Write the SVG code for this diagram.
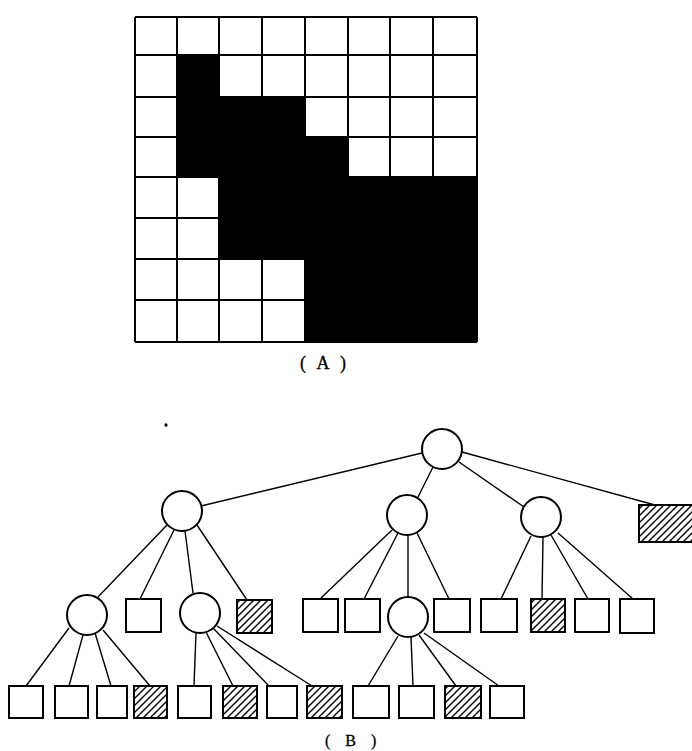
<svg xmlns="http://www.w3.org/2000/svg" width="692" height="751" viewBox="0 0 692 751">
<defs>
<pattern id="hatch" width="7" height="7" patternUnits="userSpaceOnUse">
<path d="M-1,1 L1,-1 M0,7 L7,0 M6,8 L8,6" stroke="#000" stroke-width="1.4"/>
</pattern>
<style>
.grid{stroke:#000;stroke-width:2;fill:none}
.blk{fill:#000}
.edge{stroke:#000;stroke-width:1.4;fill:none}
.circ{fill:#fff;stroke:#000;stroke-width:2}
.sq{fill:#fff;stroke:#000;stroke-width:2}
.hat{fill:url(#hatch);stroke:#000;stroke-width:2}
.lbl{font-family:"Liberation Serif","DejaVu Serif",serif;fill:#000;stroke:#000;stroke-width:0.3}
</style>
</defs>
<rect width="692" height="751" fill="#fff"/>
<g id="gridA">
<path class="blk" d="M177,55 H219 V97 H305 V137 H348 V177 H477 V342 H305 V259 H219 V177 H177 Z"/>
<path class="grid" d="M135,17 V342 M177,17 V342 M219,17 V342 M262,17 V342 M305,17 V342 M348,17 V342 M390,17 V342 M433,17 V342 M477,17 V342 M135,17 H477 M135,55 H477 M135,97 H477 M135,137 H477 M135,177 H477 M135,218 H477 M135,259 H477 M135,300 H477 M135,342 H477"/>
</g>
<text class="lbl" x="300" y="369" font-size="18" letter-spacing="3.5">( A )</text>
<ellipse cx="166" cy="425" rx="1.6" ry="1.8" fill="#000"/>
<g id="connectors">
<path class="edge" d="M422,453 L201,506"/>
<path class="edge" d="M433,467 L418,497"/>
<path class="edge" d="M459,462 L524,507"/>
<path class="edge" d="M462,452 L655,505"/>
<path class="edge" d="M167,525 L98,597"/>
<path class="edge" d="M174,530 L140,599"/>
<path class="edge" d="M185,531 L193,593"/>
<path class="edge" d="M197,525 L247,600"/>
<path class="edge" d="M392,530 L320,599"/>
<path class="edge" d="M398,533 L364,599"/>
<path class="edge" d="M408,535 L408,597"/>
<path class="edge" d="M417,533 L449,599"/>
<path class="edge" d="M531,536 L501,599"/>
<path class="edge" d="M543,537 L542,599"/>
<path class="edge" d="M551,535 L588,599"/>
<path class="edge" d="M558,533 L633,599"/>
<path class="edge" d="M69,628 L26,686"/>
<path class="edge" d="M83,635 L69,686"/>
<path class="edge" d="M95,633 L111,686"/>
<path class="edge" d="M103,630 L150,686"/>
<path class="edge" d="M196,633 L194,686"/>
<path class="edge" d="M206,632 L233,686"/>
<path class="edge" d="M213,628 L269,686"/>
<path class="edge" d="M217,626 L312,686"/>
<path class="edge" d="M398,636 L368,686"/>
<path class="edge" d="M411,637 L413,686"/>
<path class="edge" d="M419,635 L456,686"/>
<path class="edge" d="M424,633 L499,686"/>
</g>
<g id="root"><circle class="circ" cx="442" cy="449" r="20"/></g>
<g id="n1a"><circle class="circ" cx="182" cy="511" r="20"/></g>
<g id="n1b"><circle class="circ" cx="407" cy="515" r="20"/></g>
<g id="n1c"><circle class="circ" cx="541" cy="517" r="20"/></g>
<g id="n1d"><rect class="hat" x="639" y="505" width="60" height="37"/></g>
<g id="n2a1"><circle class="circ" cx="87" cy="615" r="20"/></g>
<g id="n2a2"><rect class="sq" x="126" y="599" width="35" height="33"/></g>
<g id="n2a3"><circle class="circ" cx="200" cy="613" r="20"/></g>
<g id="n2a4"><rect class="hat" x="237" y="600" width="35" height="33"/></g>
<g id="n2b1"><rect class="sq" x="303" y="599" width="35" height="33"/></g>
<g id="n2b2"><rect class="sq" x="345" y="599" width="35" height="33"/></g>
<g id="n2b3"><circle class="circ" cx="408" cy="617" r="20"/></g>
<g id="n2b4"><rect class="sq" x="434" y="599" width="36" height="33"/></g>
<g id="n2c1"><rect class="sq" x="481" y="599" width="36" height="33"/></g>
<g id="n2c2"><rect class="hat" x="531" y="599" width="34" height="33"/></g>
<g id="n2c3"><rect class="sq" x="575" y="599" width="34" height="33"/></g>
<g id="n2c4"><rect class="sq" x="620" y="599" width="34" height="34"/></g>
<g id="n3a1"><rect class="sq" x="9" y="686" width="34" height="32"/></g>
<g id="n3a2"><rect class="sq" x="55" y="686" width="33" height="32"/></g>
<g id="n3a3"><rect class="sq" x="97" y="686" width="30" height="32"/></g>
<g id="n3a4"><rect class="hat" x="134" y="686" width="33" height="32"/></g>
<g id="n3b1"><rect class="sq" x="178" y="686" width="33" height="32"/></g>
<g id="n3b2"><rect class="hat" x="223" y="686" width="34" height="32"/></g>
<g id="n3b3"><rect class="sq" x="267" y="686" width="30" height="32"/></g>
<g id="n3b4"><rect class="hat" x="307" y="686" width="35" height="32"/></g>
<g id="n3c1"><rect class="sq" x="353" y="686" width="36" height="32"/></g>
<g id="n3c2"><rect class="sq" x="399" y="686" width="35" height="32"/></g>
<g id="n3c3"><rect class="hat" x="445" y="686" width="36" height="32"/></g>
<g id="n3c4"><rect class="sq" x="490" y="686" width="34" height="32"/></g>
<text class="lbl" x="325" y="746" font-size="16" letter-spacing="5.5">( B )</text>
</svg>
